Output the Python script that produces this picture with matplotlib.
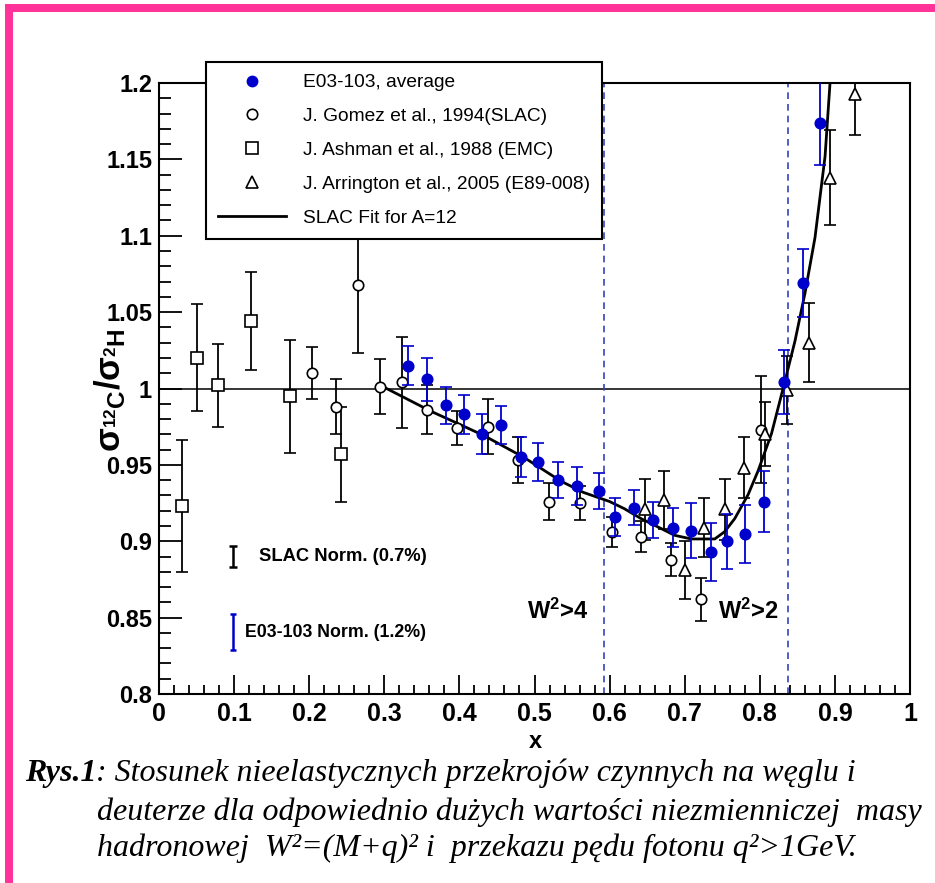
import matplotlib
matplotlib.use("Agg")
import matplotlib.pyplot as plt
from matplotlib.lines import Line2D
from matplotlib.patches import Rectangle
from matplotlib.ticker import MultipleLocator, FixedLocator, FixedFormatter

plt.rcParams['mathtext.fontset'] = 'custom'
plt.rcParams['mathtext.rm'] = 'Liberation Sans:bold'
plt.rcParams['mathtext.it'] = 'Liberation Sans:bold'
plt.rcParams['mathtext.bf'] = 'Liberation Sans:bold'

SANS = ['Liberation Sans', 'DejaVu Sans']

# ---------------- data ----------------
ashman_x = [0.031, 0.051, 0.078, 0.123, 0.174, 0.242]
ashman_y = [0.923, 1.020, 1.002, 1.044, 0.995, 0.957]
ashman_e = [0.043, 0.035, 0.027, 0.032, 0.037, 0.031]

gomez_x = [0.204, 0.236, 0.265, 0.294, 0.323, 0.357, 0.397, 0.438, 0.478,
           0.519, 0.560, 0.603, 0.642, 0.682, 0.722, 0.801]
gomez_y = [1.010, 0.988, 1.068, 1.001, 1.004, 0.986, 0.974, 0.975, 0.953,
           0.926, 0.925, 0.906, 0.903, 0.888, 0.862, 0.973]
gomez_e = [0.017, 0.018, 0.045, 0.018, 0.030, 0.016, 0.011, 0.018, 0.015,
           0.012, 0.011, 0.010, 0.010, 0.011, 0.014, 0.035]

arr_x = [0.647, 0.673, 0.701, 0.726, 0.753, 0.779, 0.807, 0.836, 0.866, 0.893, 0.927]
arr_y = [0.921, 0.927, 0.881, 0.909, 0.921, 0.948, 0.970, 0.999, 1.030, 1.138, 1.193]
arr_e = [0.020, 0.019, 0.019, 0.019, 0.020, 0.020, 0.021, 0.022, 0.026, 0.031, 0.027]

e03_x = [0.332, 0.357, 0.382, 0.406, 0.430, 0.455, 0.482, 0.505, 0.531, 0.557,
         0.586, 0.607, 0.632, 0.658, 0.684, 0.708, 0.735, 0.756, 0.780, 0.806,
         0.832, 0.858, 0.880]
e03_y = [1.015, 1.006, 0.989, 0.983, 0.970, 0.976, 0.955, 0.952, 0.940, 0.936,
         0.933, 0.916, 0.922, 0.914, 0.909, 0.907, 0.893, 0.900, 0.905, 0.926,
         1.004, 1.069, 1.174]
e03_e = [0.013, 0.014, 0.012, 0.013, 0.013, 0.0125, 0.013, 0.0125, 0.012, 0.0125,
         0.012, 0.0125, 0.0115, 0.012, 0.013, 0.018, 0.019, 0.018, 0.019, 0.020,
         0.021, 0.022, 0.028]

fit_x = [0.303, 0.3625, 0.400, 0.4334, 0.4865, 0.535, 0.565, 0.600, 0.6197, 0.642,
         0.6642, 0.6865, 0.7088, 0.740, 0.7533, 0.7666, 0.7844, 0.7978, 0.8156,
         0.832, 0.8468, 0.8602, 0.8735, 0.8869, 0.8935]
fit_y = [1.000, 0.985, 0.9766, 0.969, 0.9547, 0.9394, 0.932, 0.926, 0.9213, 0.9148,
         0.9094, 0.9039, 0.9015, 0.9015, 0.9063, 0.9148, 0.9305, 0.9462, 0.9705,
         1.0019, 1.031, 1.0625, 1.0988, 1.152, 1.200]

w2_cuts = [0.593, 0.837]
norm_x = 0.0985
slac_norm = (0.890, 0.007)
e03_norm = (0.8405, 0.012)

legend_labels = ["E03-103, average", "J. Gomez et al., 1994(SLAC)",
                 "J. Ashman et al., 1988 (EMC)", "J. Arrington et al., 2005 (E89-008)",
                 "SLAC Fit for A=12"]
xtick_vals = [0, 0.1, 0.2, 0.3, 0.4, 0.5, 0.6, 0.7, 0.8, 0.9, 1.0]
xtick_labels = ["0", "0.1", "0.2", "0.3", "0.4", "0.5", "0.6", "0.7", "0.8", "0.9", "1"]
ytick_vals = [0.8, 0.85, 0.9, 0.95, 1.0, 1.05, 1.1, 1.15, 1.2]
ytick_labels = ["0.8", "0.85", "0.9", "0.95", "1", "1.05", "1.1", "1.15", "1.2"]

BLUE = '#0000CC'

# ---------------- figure ----------------
W, H = 935, 883
fig = plt.figure(figsize=(W / 100, H / 100), dpi=100)
fig.patch.set_facecolor('white')
ax = fig.add_axes([159 / W, 189 / H, 751 / W, 611 / H])
ax.set_xlim(0, 1)
ax.set_ylim(0.8, 1.2)

ax.axhline(1.0, color='black', lw=1.1, zorder=1)
for xc in w2_cuts:
    ax.axvline(xc, color='#3344BB', lw=1.2, ls=(0, (4, 3)), zorder=1)

ax.plot(fit_x, fit_y, color='black', lw=2.0, zorder=3)

eb_kw = dict(elinewidth=1.3, capsize=4, capthick=1.3, mew=1.2, linestyle='none')
ax.errorbar(ashman_x, ashman_y, yerr=ashman_e, fmt='s', mfc='white', mec='black',
            ecolor='black', ms=8, zorder=4, **eb_kw)
ax.errorbar(gomez_x, gomez_y, yerr=gomez_e, fmt='o', mfc='white', mec='black',
            ecolor='black', ms=7.5, zorder=4, **eb_kw)
ax.errorbar(arr_x, arr_y, yerr=arr_e, fmt='^', mfc='white', mec='black',
            ecolor='black', ms=9, zorder=4, **eb_kw)
ax.errorbar(e03_x, e03_y, yerr=e03_e, fmt='o', mfc=BLUE, mec=BLUE,
            ecolor=BLUE, ms=7.5, zorder=5, **eb_kw)

# normalisation markers
ax.errorbar([norm_x], [slac_norm[0]], yerr=[slac_norm[1]], fmt='none', ecolor='black',
            elinewidth=1.8, capsize=3, capthick=1.8)
ax.errorbar([norm_x], [e03_norm[0]], yerr=[e03_norm[1]], fmt='none', ecolor=BLUE,
            elinewidth=1.8, capsize=2, capthick=1.8)
ax.text(0.133, slac_norm[0], "SLAC Norm. (0.7%)", family=SANS, weight='bold',
        fontsize=13.2, va='center', ha='left')
ax.text(0.114, e03_norm[0], "E03-103 Norm. (1.2%)", family=SANS, weight='bold',
        fontsize=12.8, va='center', ha='left')
ax.text(0.49, 0.854, r"W$^{2}$>4", family=SANS, weight='bold', fontsize=17,
        va='center', ha='left')
ax.text(0.744, 0.854, r"W$^{2}$>2", family=SANS, weight='bold', fontsize=17,
        va='center', ha='left')

# ticks
ax.xaxis.set_major_locator(FixedLocator(xtick_vals))
ax.xaxis.set_major_formatter(FixedFormatter(xtick_labels))
ax.xaxis.set_minor_locator(MultipleLocator(0.02))
ax.yaxis.set_major_locator(FixedLocator(ytick_vals))
ax.yaxis.set_major_formatter(FixedFormatter(ytick_labels))
ax.yaxis.set_minor_locator(MultipleLocator(0.01))
ax.tick_params(axis='x', which='major', direction='in', length=13.5, width=1.3, pad=6,
               top=False)
ax.tick_params(axis='x', which='minor', direction='in', length=6.5, width=1.3, top=False)
ax.tick_params(axis='y', which='major', direction='in', length=16.5, width=1.3, pad=5,
               right=False)
ax.tick_params(axis='y', which='minor', direction='in', length=8.5, width=1.3, right=False)
for lab in ax.get_xticklabels():
    lab.set_family(SANS); lab.set_weight('bold'); lab.set_fontsize(18)
for lab in ax.get_yticklabels():
    lab.set_family(SANS); lab.set_weight('bold'); lab.set_fontsize(17)
for sp in ax.spines.values():
    sp.set_linewidth(1.5)

# legend
handles = [
    Line2D([], [], marker='o', ls='none', mfc=BLUE, mec=BLUE, ms=7.5),
    Line2D([], [], marker='o', ls='none', mfc='white', mec='black', ms=7.5, mew=1.2),
    Line2D([], [], marker='s', ls='none', mfc='white', mec='black', ms=8, mew=1.2),
    Line2D([], [], marker='^', ls='none', mfc='white', mec='black', ms=9, mew=1.2),
    Line2D([], [], color='black', lw=2.0),
]
leg = ax.legend(handles, legend_labels, loc='upper left',
                bbox_to_anchor=(206 / W, 1 - 62 / H), bbox_transform=fig.transFigure,
                borderaxespad=0, fancybox=False, framealpha=1, edgecolor='black',
                prop=dict(family=SANS, size=13.8), handlelength=3.55,
                handletextpad=0.88, labelspacing=0.86, borderpad=0.62)
leg.get_frame().set_linewidth(1.5)
leg.set_zorder(10)

# axis labels
fig.text(110 / W, 1 - 390 / H, r"$\sigma_{^{12}C}/\sigma_{^{2}H}$", rotation=90,
         fontsize=25, ha='center', va='center')
fig.text(535 / W, 1 - 741 / H, "x", family=SANS, weight='bold', fontsize=17,
         ha='center', va='center')

# caption
SERIF = ['Liberation Serif', 'DejaVu Serif']
CAP = 23
t1 = fig.text(25 / W, 1 - 773 / H, "Rys.1", family=SERIF, style='italic',
              weight='bold', fontsize=CAP, ha='left', va='center')
ax.annotate(": Stosunek nieelastycznych przekrojów czynnych na węglu i",
            xy=(1, 0), xycoords=t1, ha='left', va='bottom', family=SERIF,
            style='italic', fontsize=CAP, annotation_clip=False)
fig.text(97 / W, 1 - 812 / H,
         "deuterze dla odpowiednio dużych wartości niezmienniczej  masy",
         family=SERIF, style='italic', fontsize=CAP, ha='left', va='center')
fig.text(97 / W, 1 - 848 / H,
         "hadronowej  W²=(M+q)² i  przekazu pędu fotonu q²>1GeV.",
         family=SERIF, style='italic', fontsize=CAP, ha='left', va='center')

# pink page border
PINK = '#FF3399'
fig.patches.append(Rectangle((5 / W, 0), 8 / W, 1 - 4 / H, transform=fig.transFigure,
                             facecolor=PINK, edgecolor='none', zorder=0))
fig.patches.append(Rectangle((5 / W, 1 - 12 / H), 1, 8 / H, transform=fig.transFigure,
                             facecolor=PINK, edgecolor='none', zorder=0))

fig.savefig("out.png", dpi=100)
